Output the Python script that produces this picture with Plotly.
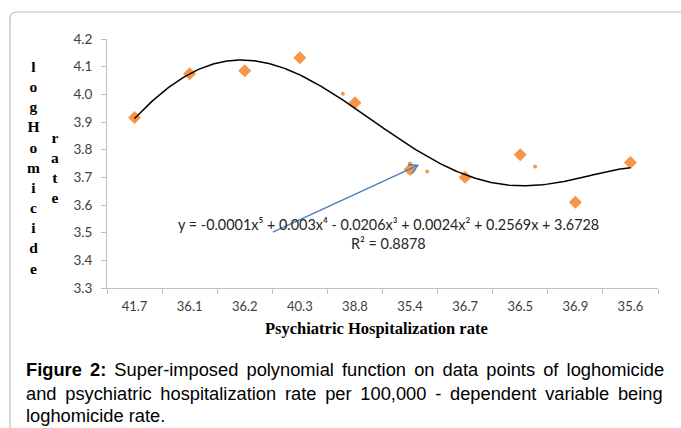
import numpy as np
import plotly.graph_objects as go

# ---- data ----
categories = ["41.7", "36.1", "36.2", "40.3", "38.8", "35.4", "36.7", "36.5", "36.9", "35.6"]
positions = list(range(1, 11))
log_homicide = [3.916, 4.074, 4.085, 4.132, 3.970, 3.728, 3.700, 3.782, 3.610, 3.754]
# second (small dot) series
dot_x = [4.78, 6.00, 6.31, 8.27]
dot_y = [4.002, 3.750, 3.721, 3.739]
y_ticks = [3.3, 3.4, 3.5, 3.6, 3.7, 3.8, 3.9, 4.0, 4.1, 4.2]

# polynomial trendline (order 5) fitted to the data, as Excel does
coef = np.polyfit(positions, log_homicide, 5)
xs = np.linspace(1, 10, 300)
ys = np.polyval(coef, xs)

W, H = 681, 428
L, R, T, B = 107, 658, 39, 288
XR = (0.5, 10.5)
YR = (3.3, 4.2)

def px(x):
    return (x - L) / (R - L)

def py(y):
    return (B - y) / (B - T)

def data_to_pix(x, y):
    return (L + (x - XR[0]) / (XR[1] - XR[0]) * (R - L),
            B - (y - YR[0]) / (YR[1] - YR[0]) * (B - T))

fig = go.Figure()
fig.add_trace(go.Scatter(x=positions, y=log_homicide, mode="markers",
                         marker=dict(symbol="diamond", size=10, color="#F79646"),
                         showlegend=False))
fig.add_trace(go.Scatter(x=dot_x, y=dot_y, mode="markers",
                         marker=dict(symbol="circle", size=4, color="#F79646"),
                         showlegend=False))
fig.add_trace(go.Scatter(x=xs, y=ys, mode="lines",
                         line=dict(color="black", width=1.5),
                         showlegend=False))

axis_col = "#BFBFBF"
tick_font = dict(family="Lato, Carlito, sans-serif", size=13, color="#404040")
fig.update_xaxes(range=list(XR), tickmode="array", tickvals=positions, ticktext=categories,
                 ticks="outside", ticklen=6, tickcolor="rgba(0,0,0,0)",
                 showline=True, linecolor=axis_col, linewidth=1, showgrid=False, zeroline=False,
                 minor=dict(tick0=0.5, dtick=1, ticks="outside", ticklen=5, tickcolor=axis_col,
                            showgrid=False),
                 tickfont=tick_font)
fig.update_yaxes(range=list(YR), tickmode="array", tickvals=y_ticks,
                 ticktext=[f"{v:.1f}" for v in y_ticks],
                 ticks="outside", ticklen=5, tickcolor=axis_col,
                 showline=True, linecolor=axis_col, linewidth=1, showgrid=False, zeroline=False,
                 ticklabelstandoff=6, tickfont=dict(family="Lato, Carlito, sans-serif", size=13.5,
                                                    color="#404040"))

annotations = []
eq_font = dict(family="Lato, sans-serif", size=14.4, color="#262626")
annotations.append(dict(x=px(388), y=py(224), xref="paper", yref="paper", showarrow=False,
                        text="y = -0.0001x⁵ + 0.003x⁴ - 0.0206x³ + 0.0024x² + 0.2569x + 3.6728",
                        font=eq_font, xanchor="center", yanchor="middle"))
annotations.append(dict(x=px(388), y=py(243), xref="paper", yref="paper", showarrow=False,
                        text="R² = 0.8878", font=eq_font, xanchor="center", yanchor="middle"))
# y axis title (stacked letters)
serif = "Liberation Serif, Times New Roman, serif"
annotations.append(dict(x=px(33), y=py(167), xref="paper", yref="paper", showarrow=False,
                        text="<br>".join("<b>%s</b>" % c for c in "logHomicide"),
                        font=dict(family=serif, size=15.5, color="black"),
                        xanchor="center", yanchor="middle", align="center"))
annotations.append(dict(x=px(55), y=py(167), xref="paper", yref="paper", showarrow=False,
                        text="<br>".join("<b>%s</b>" % c for c in "rate"),
                        font=dict(family=serif, size=15.5, color="black"),
                        xanchor="center", yanchor="middle", align="center"))
# x axis title
annotations.append(dict(x=px(376), y=py(328), xref="paper", yref="paper", showarrow=False,
                        text="<b>Psychiatric Hospitalization rate</b>",
                        font=dict(family=serif, size=16.5, color="black"),
                        xanchor="center", yanchor="middle"))
# caption (lines 1-2 justified with extra narrow spaces)
cap_font = dict(family="Liberation Sans, Arial, sans-serif", size=18.3, color="black")
l1 = "<b>Figure 2:</b> Super-imposed polynomial function on data points of loghomicide"
l2 = "and psychiatric hospitalization rate per 100,000 - dependent variable being"
l3 = "loghomicide rate."
cap_lines = [l1.replace(" ", " \u2006"), l2.replace(" ", " \u2009"), l3]
for line, yy in zip(cap_lines, [369, 393, 415]):
    annotations.append(dict(x=px(24), y=py(yy), xref="paper", yref="paper", showarrow=False,
                            text=line, font=cap_font, xanchor="left", yanchor="middle"))

# blue pointer arrow with open head
arrow_col = "#4A7EBB"
tail = (3.51, 3.502)
head = (6.14, 3.743)
shapes = [
    dict(type="line", xref="x", yref="y", x0=tail[0], y0=tail[1], x1=head[0], y1=head[1],
         line=dict(color=arrow_col, width=1.4)),
]
hx, hy = data_to_pix(*head)
tx, ty = data_to_pix(*tail)
u = np.array([hx - tx, hy - ty])
u = u / np.linalg.norm(u)
arms = []
for ang in (np.pi / 6, -np.pi / 6):
    c, s = np.cos(ang), np.sin(ang)
    v = -np.array([c * u[0] - s * u[1], s * u[0] + c * u[1]]) * 10
    arms.append((hx + v[0], hy + v[1]))
shapes.append(dict(type="path", xref="paper", yref="paper",
                   path=f"M {px(arms[0][0])},{py(arms[0][1])} L {px(hx)},{py(hy)} L {px(arms[1][0])},{py(arms[1][1])}",
                   line=dict(color=arrow_col, width=1.4)))
# chart frame
shapes.append(dict(type="path", xref="paper", yref="paper",
                   path=f"M {px(10)},{py(430)} L {px(10)},{py(19)} Q {px(10)},{py(12)} {px(17)},{py(12)} L {px(683)},{py(12)}",
                   line=dict(color="#BFBFBF", width=1.2)))

fig.update_layout(width=W, height=H, margin=dict(l=L, r=W - R, t=T, b=H - B),
                  paper_bgcolor="white", plot_bgcolor="white",
                  annotations=annotations, shapes=shapes)

fig.write_html("out.html", config={"displayModeBar": False},
               post_script="document.body.style.margin='0px';")
